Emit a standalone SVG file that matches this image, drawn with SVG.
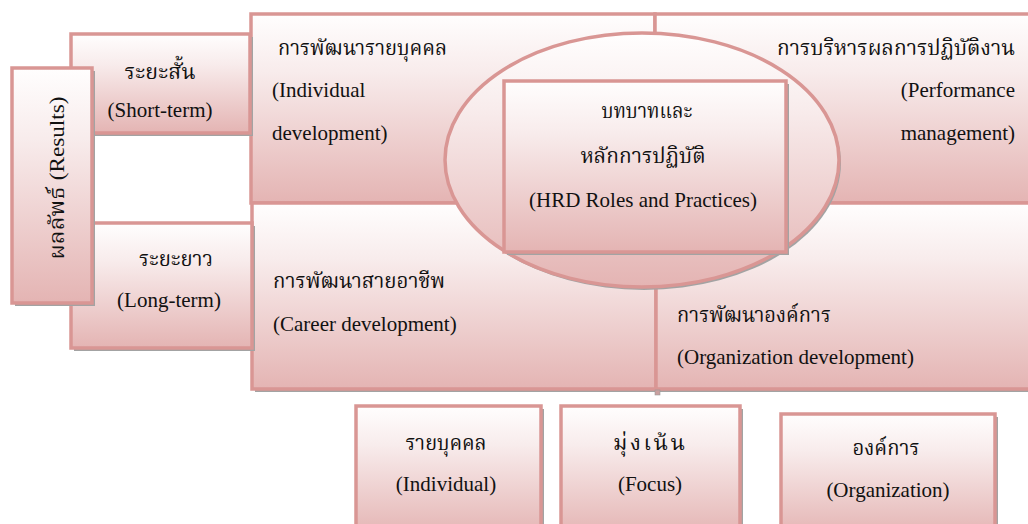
<svg xmlns="http://www.w3.org/2000/svg" width="1028" height="524" viewBox="0 0 1028 524">
<defs>
<linearGradient id="g" x1="0" y1="0" x2="0" y2="1">
<stop offset="0" stop-color="#fffefe"/>
<stop offset="0.3" stop-color="#f8ecec"/>
<stop offset="1" stop-color="#e4b4b3"/>
</linearGradient>
<style>
.b{fill:url(#g);stroke:#d99694;stroke-width:3.5}
.s{fill:#a3a3a3}
.e{font-family:"Liberation Serif","Times New Roman",serif;font-size:21px;fill:#111}
.th{font-family:"Kinnari","Norasi","Noto Serif Thai","Laksaman","TH Sarabun New","Garuda","Noto Sans Thai",serif;font-size:22px;fill:#111}
.m{text-anchor:middle}
.r{text-anchor:end}
</style>
</defs>
<rect width="1028" height="524" fill="#ffffff"/>

<g id="matrix-individual-development">
<rect class="s" x="254" y="17" width="404" height="189"/>
<rect class="b" x="251" y="14" width="404" height="189"/>
<text class="th" x="278" y="55" textLength="169" lengthAdjust="spacingAndGlyphs">การพัฒนารายบุคคล</text>
<text class="e" x="272" y="97">(Individual</text>
<text class="e" x="272" y="140">development)</text>
</g>
<g id="matrix-performance-management">
<rect class="s" x="658" y="17" width="380" height="189"/>
<rect class="b" x="655" y="14" width="380" height="189"/>
<text class="th r" x="1015" y="55" textLength="238" lengthAdjust="spacingAndGlyphs">การบริหารผลการปฏิบัติงาน</text>
<text class="e r" x="1015" y="97">(Performance</text>
<text class="e r" x="1015" y="140">management)</text>
</g>
<g id="matrix-career-development">
<rect class="s" x="255" y="206" width="404" height="186"/>
<rect class="b" x="252" y="203" width="404" height="186"/>
<text class="th" x="273" y="288" textLength="172" lengthAdjust="spacingAndGlyphs">การพัฒนาสายอาชีพ</text>
<text class="e" x="273" y="331">(Career development)</text>
</g>
<g id="matrix-organization-development">
<rect class="s" x="659" y="206" width="380" height="186"/>
<rect class="b" x="656" y="203" width="380" height="186"/>
<text class="th" x="677" y="322" textLength="154" lengthAdjust="spacingAndGlyphs">การพัฒนาองค์การ</text>
<text class="e" x="677" y="364">(Organization development)</text>
</g>
<rect x="655" y="390" width="5" height="5" fill="#c9a0a0" stroke="#999" stroke-width="0.6"/>

<g id="short-term">
<rect class="s" x="74" y="37" width="179" height="99"/>
<rect class="b" x="71" y="34" width="179" height="99"/>
<text class="th m" x="160" y="79" textLength="71" lengthAdjust="spacingAndGlyphs">ระยะสั้น</text>
<text class="e m" x="160" y="117">(Short-term)</text>
</g>
<g id="long-term">
<rect class="s" x="74" y="226" width="181" height="125"/>
<rect class="b" x="71" y="223" width="181" height="125"/>
<text class="th m" x="176" y="266" textLength="74" lengthAdjust="spacingAndGlyphs">ระยะยาว</text>
<text class="e m" x="169" y="307">(Long-term)</text>
</g>
<g id="results">
<rect class="s" x="15" y="71" width="80" height="235"/>
<rect class="b" x="12" y="68" width="80" height="235"/>
<text class="th m" transform="translate(64 178) rotate(-90)" x="0" y="0" textLength="163" lengthAdjust="spacingAndGlyphs">ผลลัพธ์ <tspan font-family="Liberation Serif, serif">(Results)</tspan></text>
</g>

<g id="hrd-core">
<ellipse cx="644" cy="163" rx="197" ry="127" fill="#a3a3a3"/>
<ellipse class="b" cx="642" cy="160" rx="197" ry="127"/>
<rect class="s" x="507" y="84" width="282" height="171"/>
<rect class="b" x="504" y="81" width="282" height="171"/>
<text class="th m" x="647" y="118" textLength="91" lengthAdjust="spacingAndGlyphs">บทบาทและ</text>
<text class="th m" x="643" y="163" textLength="125" lengthAdjust="spacingAndGlyphs">หลักการปฏิบัติ</text>
<text class="e m" x="643" y="207">(HRD Roles and Practices)</text>
</g>

<g id="focus-individual">
<rect class="s" x="359" y="409" width="185" height="130"/>
<rect class="b" x="356" y="406" width="185" height="130"/>
<text class="th m" x="446" y="450" textLength="81" lengthAdjust="spacingAndGlyphs">รายบุคคล</text>
<text class="e m" x="446" y="491">(Individual)</text>
</g>
<g id="focus">
<rect class="s" x="564" y="409" width="179" height="130"/>
<rect class="b" x="561" y="406" width="179" height="130"/>
<text class="th m" x="649" y="450" font-size="24" textLength="72" lengthAdjust="spacing">มุ่งเน้น</text>
<text class="e m" x="650" y="491">(Focus)</text>
</g>
<g id="focus-organization">
<rect class="s" x="784" y="417" width="214" height="122"/>
<rect class="b" x="781" y="414" width="214" height="122"/>
<text class="th m" x="886" y="455" textLength="67" lengthAdjust="spacingAndGlyphs">องค์การ</text>
<text class="e m" x="888" y="497">(Organization)</text>
</g>
</svg>
